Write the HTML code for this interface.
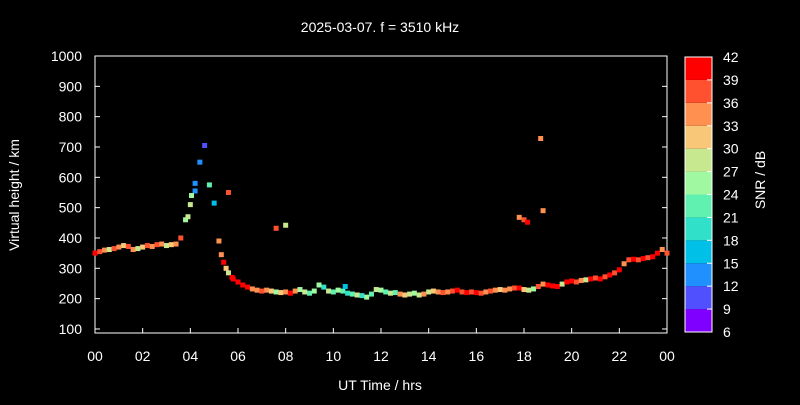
<!DOCTYPE html>
<html><head><meta charset="utf-8"><style>
body{margin:0;background:#000;width:800px;height:400px;overflow:hidden}
svg text{font-family:"Liberation Sans",sans-serif;fill:#fff}
</style></head><body>
<svg id="c" width="800" height="400">
<rect width="800" height="400" fill="#000"/>
<text x="380" y="32" font-size="14" text-anchor="middle">2025-03-07. f = 3510 kHz</text>
<text x="380" y="390" font-size="14" text-anchor="middle">UT Time / hrs</text>
<text transform="translate(19,195) rotate(-90)" font-size="14" text-anchor="middle">Virtual height / km</text>
<text transform="translate(765,180) rotate(-90)" font-size="14" text-anchor="middle">SNR / dB</text>
<rect x="95" y="56" width="572" height="277" fill="none" stroke="#fff" stroke-width="1"/>
<g id="axes"></g><g id="marks"></g><g id="cbar"></g>
</svg>
<script>
const xTicks=["00","02","04","06","08","10","12","14","16","18","20","22","00"];
const yTicks=[100,200,300,400,500,600,700,800,900,1000];
const cbTicks=[6,9,12,15,18,21,24,27,30,33,36,39,42];
const bandColors=["#8000ff","#5050ff","#2090ff","#00c0e8","#30e0c8","#60f0b0","#a0f8a0","#c8e890","#f8c878","#ff9050","#ff5030","#ff0000"];
const heights=[350,355,360,362,365,370,375,372,362,365,370,375,372,378,380,375,378,380,
400,460,510,555,650,705,575,515,390,320,285,265,255,245,238,232,228,225,228,225,222,220,222,218,225,230,222,218,225,245,238,225,222,228,225,218,215,212,210,205,215,230,228,222,218,220,215,212,215,218,212,215,222,225,222,220,222,225,228,222,220,222,220,218,222,225,228,230,228,232,235,235,230,228,232,240,248,245,242,240,248,255,258,255,260,262,265,268,265,272,278,285,295,315,328,330,328,332,335,338,350,362,350];
const snr=[39,36,33,27,36,33,30,36,33,27,30,36,33,36,33,27,30,33,
36,24,27,12,12,9,21,15,33,39,27,39,39,39,39,33,33,36,33,30,24,30,33,39,33,24,27,21,24,24,18,27,21,24,21,18,21,27,18,24,21,27,24,21,27,21,33,30,27,24,27,33,27,30,33,36,33,36,39,36,39,36,39,36,33,36,33,30,33,33,36,42,30,27,24,36,33,39,42,39,27,39,42,36,33,27,39,36,39,36,39,36,39,33,36,39,36,39,36,39,42,33,36];
const timeStep=0.2;
const extraTimes=[4.2,5.6,7.6,8.0,10.5,17.8,18.0,18.15,18.7,18.8,3.9,4.05,5.3,5.5,5.75];
const extraHeights=[580,550,432,442,240,468,460,452,728,490,470,540,345,300,270];
const extraSnr=[12,36,36,27,15,33,36,39,33,33,27,24,33,30,39];
const X0=95,X1=667,Y0=333,YT=56;
const xs=t=>X0+t/24*(X1-X0);
const ys=h=>YT+(1000-h)*0.3033;
const col=v=>bandColors[Math.max(0,Math.min(11,Math.floor((v-6)/3)))];
const NS="http://www.w3.org/2000/svg";
function mk(tag,attrs,parent,txt){const e=document.createElementNS(NS,tag);for(const k in attrs)e.setAttribute(k,attrs[k]);if(txt!==undefined)e.textContent=txt;parent.appendChild(e);return e;}
const ax=document.getElementById('axes');
xTicks.forEach((l,i)=>{const x=xs(i*2);
 let t=mk('line',{x1:x,x2:x,y1:Y0,y2:Y0-5,stroke:'#fff'},ax);
 
 
 let tx=mk('text',{x:x,y:361,'font-size':14,'text-anchor':'middle'},ax,l);
 
 });
yTicks.forEach(v=>{const y=ys(v);
 let t=mk('line',{x1:X0,x2:X0+5,y1:y,y2:y,stroke:'#fff'},ax);
 
 
 mk('line',{x1:X1-5,x2:X1,y1:y,y2:y,stroke:'#fff'},ax);
 let tx=mk('text',{x:82,y:y+5,'font-size':14,'text-anchor':'end'},ax,v);
 
 });
const mg=document.getElementById('marks');
function pt(t,h,s){if(h===undefined||s===undefined)return;
 const r=mk('rect',{x:xs(t)-2.5,y:ys(h)-2.5,width:5,height:5,fill:col(s)},mg);
 
 }
heights.forEach((h,i)=>pt(i*timeStep,h,snr[i]));
extraTimes.forEach((t,i)=>pt(t,extraHeights[i],extraSnr[i]));
const cb=document.getElementById('cbar');
const cbTop=57,cbBot=332,cbH=(cbBot-cbTop)/12;
bandColors.forEach((c,i)=>{const r=mk('rect',{x:685,y:cbBot-(i+1)*cbH,width:27,height:cbH,fill:c},cb);
 
 });
mk('rect',{x:685,y:cbTop,width:27,height:cbBot-cbTop,fill:'none',stroke:'#fff'},cb);
cbTicks.forEach((v,i)=>{const y=cbBot-i*cbH;
 mk('line',{x1:707,x2:712,y1:y,y2:y,stroke:'#fff'},cb);
 let tx=mk('text',{x:723,y:y+5,'font-size':14},cb,v);
 
 });
</script>
</body></html>
